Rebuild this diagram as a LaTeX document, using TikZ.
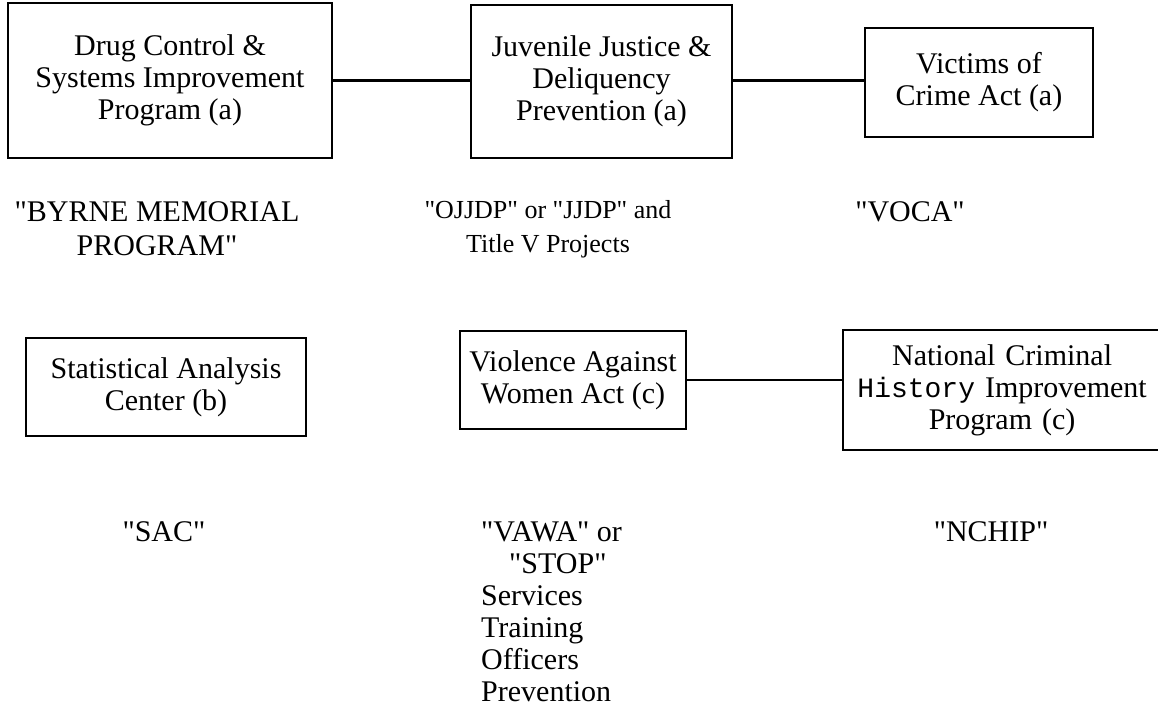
\documentclass[tikz,border=0pt]{standalone}
\usepackage{fontspec}
\setmainfont{Liberation Serif}[Ligatures=TeXOff]
\setmonofont{Liberation Mono}
\usetikzlibrary{calc}
\tikzset{
	% Two node styles: framed program box and the plain name under it
	prog box/.style={draw,line width=2.2pt,align=center,inner sep=0pt,font=\fontsize{30}{32}\selectfont},
	prog name/.style={align=center,inner sep=0pt,font=\fontsize{30}{34}\selectfont},
	link/.style={line width=2.2pt}
}

\begin{document}
\begin{tikzpicture}[x=1pt,y=-1pt]
	\useasboundingbox (0,0) rectangle (1158,719);
	\clip (0,0) rectangle (1158,719);
	% macro for the short name printed under a box
	\newcommand{\progname}[3][]{\node[prog name,#1]at(#2){#3};}
	
	% first row of programs
	\node(0-1)[prog box,minimum width=324,minimum height=155] at (170,80.5) {Drug Control \&\\Systems Improvement\\Program (a)};
	\node(0-2)[prog box,minimum width=261,minimum height=153] at (601.5,81.5) {Juvenile Justice \&\\Deliquency\\Prevention (a)};
	\node(0-3)[prog box,minimum width=228,minimum height=109] at (979,82.5) {Victims of\\Crime Act (a)};
	
	% second row of programs
	\node(1-1)[prog box,minimum width=280,minimum height=98] at (166,387) {Statistical Analysis\\Center (b)};
	\node(1-2)[prog box,minimum width=226,minimum height=98] at (573,380) {Violence Against\\Women Act (c)};
	\node(1-3)[prog box,text width=318,minimum height=120,anchor=west] at (842,390) {National Criminal\\{\ttfamily\fontsize{28}{32}\selectfont History} Improvement\\Program (c)};
	
	\draw[link] (0-1.east) -- (0-1.east -| 0-2.west);
	\draw[link] (0-2.east |- 0-1.east) -- (0-3.west |- 0-1.east);
	\draw[link] (1-2.east) -- (1-2.east -| 1-3.west);
	
	\progname{157,229}{"BYRNE MEMORIAL\\PROGRAM"}
	\progname[font=\fontsize{26}{34}\selectfont]{548,229}{"OJJDP" or "JJDP" and\\Title V Projects}
	\progname{910,212}{"VOCA"}
	\progname{164,532}{"SAC"}
	\progname{991,532}{"NCHIP"}
	\progname[anchor=north west,font=\fontsize{30}{32}\selectfont,align=left]{481,521}{"VAWA" or\\\hspace{28pt}"STOP"\\Services\\Training\\Officers\\Prevention}
\end{tikzpicture}
\end{document}
